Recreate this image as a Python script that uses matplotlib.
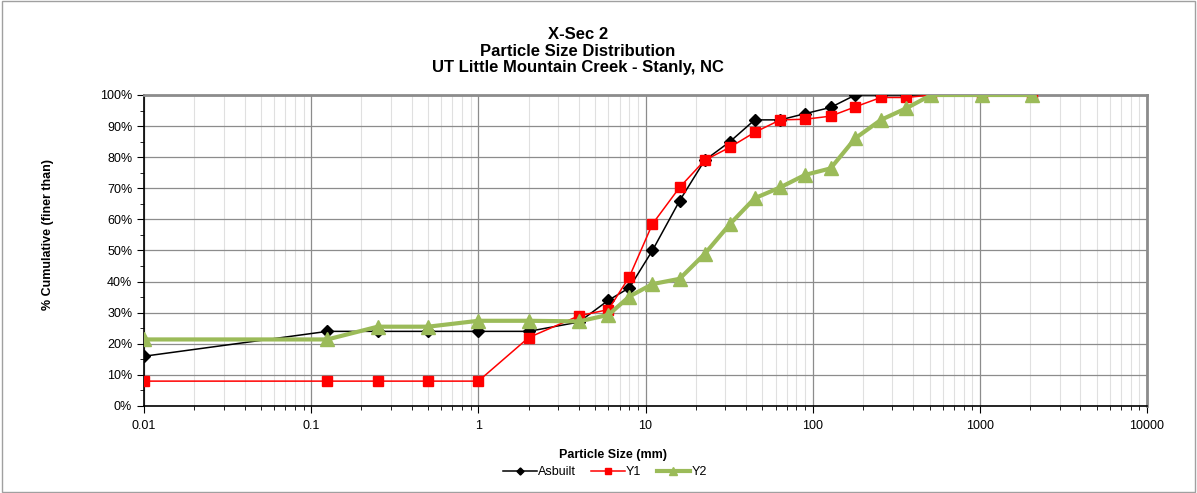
import matplotlib
matplotlib.use("Agg")
import matplotlib.pyplot as plt
from matplotlib.ticker import FixedLocator, LogLocator, NullFormatter, PercentFormatter
from matplotlib.patches import Rectangle

plt.rcParams['font.family'] = ['Liberation Sans', 'DejaVu Sans']

# Data
asbuilt_size = [0.01, 0.125, 0.25, 0.5, 1, 2, 4, 6, 8, 11, 16, 22.6, 32, 45, 64, 90, 128, 180, 256, 362, 512]
asbuilt_pct = [16, 24, 24, 24, 24, 24, 27, 34, 38, 50, 66, 79, 85, 92, 92, 94, 96, 100, 100, 100, 100]

y1_size = [0.01, 0.125, 0.25, 0.5, 1, 2, 4, 6, 8, 11, 16, 22.6, 32, 45, 64, 90, 128, 180, 256, 362, 512, 1024, 2048]
y1_pct = [8, 8, 8, 8, 8, 22, 29, 31, 41.5, 58.5, 70.3, 79, 83.2, 88, 92, 92.2, 93.2, 96.2, 99.2, 99.2, 100, 100, 100]

y2_size = [0.01, 0.125, 0.25, 0.5, 1, 2, 4, 6, 8, 11, 16, 22.6, 32, 45, 64, 90, 128, 180, 256, 362, 512, 1024, 2048]
y2_pct = [21.4, 21.4, 25.5, 25.5, 27.4, 27.4, 27.2, 29.3, 35.2, 39.2, 40.9, 48.9, 58.5, 66.8, 70.3, 74.3, 76.4, 86.1, 92, 95.7, 100, 100, 100]

W, H = 1197, 493
fig = plt.figure(figsize=(W / 100, H / 100), dpi=100)
ax = fig.add_axes([144 / W, 1 - 406 / H, (1147 - 144) / W, (406 - 95) / H])

# chart-area border
fig.patches.append(Rectangle((0.002, 0.002), 0.996, 0.996, transform=fig.transFigure,
                             fill=False, edgecolor='#a0a0a0', linewidth=1))

ax.plot(asbuilt_size, asbuilt_pct, color='black', lw=1.1, marker='D', ms=6,
        label='Asbuilt', zorder=3)
ax.plot(y1_size, y1_pct, color='#ff0000', lw=1.1, marker='s', ms=7.5,
        label='Y1', zorder=4)
ax.plot(y2_size, y2_pct, color='#9bbb59', lw=3, marker='^', ms=9.5,
        label='Y2', zorder=5)

ax.set_xscale('log')
ax.set_xlim(0.01, 10000)
ax.set_ylim(0, 100)
ax.xaxis.set_minor_locator(LogLocator(base=10, subs=range(2, 10), numticks=100))
ax.xaxis.set_minor_formatter(NullFormatter())
ax.set_xticks([0.01, 0.1, 1, 10, 100, 1000, 10000])
ax.set_xticklabels(['0.01', '0.1', '1', '10', '100', '1000', '10000'])
ax.yaxis.set_major_locator(FixedLocator(range(0, 101, 10)))
ax.yaxis.set_minor_locator(FixedLocator(range(5, 100, 10)))
ax.yaxis.set_major_formatter(PercentFormatter(decimals=0))

ax.grid(True, which='major', axis='both', color='#8c8c8c', lw=0.9)
ax.grid(True, which='minor', axis='x', color='#e0e0e0', lw=0.8)
ax.set_axisbelow(True)

ax.tick_params(axis='both', which='major', labelsize=9, direction='out', length=5, width=0.8)
ax.tick_params(axis='both', which='minor', direction='out', length=3, width=0.6)
ax.tick_params(axis='x', pad=5)

for s in ('top', 'right'):
    ax.spines[s].set_color('#8c8c8c')
    ax.spines[s].set_linewidth(2)
for s in ('left', 'bottom'):
    ax.spines[s].set_color('black')
    ax.spines[s].set_linewidth(1.2)

fig.text(578 / W, 1 - 51 / H, 'X-Sec 2\nParticle Size Distribution\nUT Little Mountain Creek - Stanly, NC',
         ha='center', va='center', fontsize=12, fontweight='bold', linespacing=1.1)

fig.text(613 / W, 1 - 455 / H, 'Particle Size (mm)', ha='center', va='center',
         fontsize=9, fontweight='bold')
fig.text(48 / W, 1 - 234 / H, '% Cumulative (finer than)', ha='center', va='center',
         rotation=90, fontsize=9, fontweight='bold')

fig.legend(loc='center', bbox_to_anchor=(605 / W, 1 - 472 / H), ncol=3, frameon=False,
           fontsize=9, handlelength=2.7, handletextpad=0.1, columnspacing=1.2,
           markerscale=0.6)

fig.savefig('out.png', dpi=100)
